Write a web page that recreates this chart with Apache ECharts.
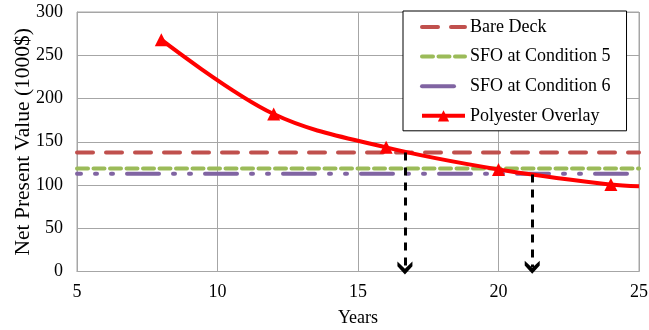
<!DOCTYPE html>
<html>
<head>
<meta charset="utf-8">
<script src="https://cdn.jsdelivr.net/npm/echarts@6/dist/echarts.min.js"></script>
<style>
html,body{margin:0;padding:0;background:#fff;}
#chart{width:649px;height:330px;}
</style>
</head>
<body>
<div id="chart"></div>
<script>
// ---- data ----
var xTicks = [5, 10, 15, 20, 25];
var yTicks = [0, 50, 100, 150, 200, 250, 300];
var seriesNames = ['Bare Deck', 'SFO at Condition 5', 'SFO at Condition 6', 'Polyester Overlay'];
var bareDeck = [[5, 137.6], [25, 137.6]];
var sfoCond5 = [[5, 119], [25, 119]];
var sfoCond6 = [[5, 113], [25, 113]];
var polyesterYears = [8, 12, 16, 20, 24, 25];
var polyesterValues = [268, 182, 143.5, 118, 100.5, 98.5];
var arrowYears = [16.67, 21.2];
var arrowTops = [137.6, 112];
var arrowBottoms = [4, 5];

var FONT = '"Liberation Serif","Times New Roman",serif';
var polyData = polyesterYears.map(function (x, i) {
  return { value: [x, polyesterValues[i]], symbol: i === polyesterYears.length - 1 ? 'none' : 'triangle' };
});
var chevron = 'path://M5,0 L10,7 L10,11 L5,5 L0,11 L0,7 Z';
var arrowLines = arrowYears.map(function (x, i) {
  return [{ coord: [x, arrowTops[i]], symbol: 'none' }, { coord: [x, arrowBottoms[i]], symbol: chevron, symbolSize: [15, 13] }];
});
var legendLineStyles = [
  { width: 4, type: [16, 13], cap: 'round', dashOffset: 0 },
  { width: 4, type: [11, 5.5], cap: 'round', dashOffset: 0 },
  { width: 4, type: [32, 40], cap: 'round', dashOffset: 0 },
  { width: 4, type: 'solid' }
];
var legendData = seriesNames.map(function (n, i) {
  return i < 3 ? { name: n, itemStyle: { opacity: 0 }, lineStyle: legendLineStyles[i] }
               : { name: n, lineStyle: legendLineStyles[i] };
});

var chart = echarts.init(document.getElementById('chart'), null, { renderer: 'canvas' });
chart.setOption({
  animation: false,
  backgroundColor: '#fff',
  textStyle: { fontFamily: FONT },
  grid: { left: 77, right: 10, top: 12, bottom: 58.5, show: true, borderColor: '#a6a6a6', borderWidth: 1,
          containLabel: false, outerBoundsMode: 'none' },
  legend: {
    orient: 'vertical',
    left: 403, top: 11,
    padding: [7, 16, 6, 17],
    itemWidth: 43, itemHeight: 14, itemGap: 11.6,
    backgroundColor: '#fff',
    borderColor: '#000', borderWidth: 1,
    textStyle: { fontFamily: FONT, fontSize: 18, color: '#000' },
    data: legendData
  },
  xAxis: {
    type: 'value', min: xTicks[0], max: xTicks[xTicks.length - 1], interval: 5,
    name: 'Years', nameLocation: 'middle', nameGap: 38,
    nameTextStyle: { fontFamily: FONT, fontSize: 18, color: '#000' },
    axisLine: { lineStyle: { color: '#a6a6a6' } },
    axisTick: { show: false },
    axisLabel: { fontFamily: FONT, fontSize: 18, color: '#000', margin: 12 },
    splitLine: { show: true, lineStyle: { color: '#a6a6a6', width: 1 } }
  },
  yAxis: {
    type: 'value', min: yTicks[0], max: yTicks[yTicks.length - 1], interval: 50,
    name: 'Net Present Value (1000$)', nameLocation: 'middle', nameGap: 43, nameMoveOverlap: false,
    nameTextStyle: { fontFamily: FONT, fontSize: 21.5, color: '#000' },
    axisLine: { show: true, lineStyle: { color: '#a6a6a6' } },
    axisTick: { show: false },
    axisLabel: { fontFamily: FONT, fontSize: 18, color: '#000', margin: 14 },
    splitLine: { show: true, lineStyle: { color: '#a6a6a6', width: 1 } }
  },
  series: [
    { name: seriesNames[0], type: 'line', data: bareDeck, symbol: 'none', z: 3,
      lineStyle: { color: '#C0504D', width: 4, type: [16, 13], cap: 'round' }, itemStyle: { color: '#C0504D' } },
    { name: seriesNames[1], type: 'line', data: sfoCond5, symbol: 'none', z: 3,
      lineStyle: { color: '#9BBB59', width: 4, type: [11, 5.5], cap: 'round' }, itemStyle: { color: '#9BBB59' } },
    { name: seriesNames[2], type: 'line', data: sfoCond6, symbol: 'none', z: 3,
      lineStyle: { color: '#8064A2', width: 4, type: [32, 14, 2, 14, 2, 14], cap: 'round', dashOffset: 28 }, itemStyle: { color: '#8064A2' } },
    { name: seriesNames[3], type: 'line', data: polyData, symbol: 'triangle', symbolSize: 13, showAllSymbol: true, z: 5,
      smooth: 0.35,
      lineStyle: { color: '#FF0000', width: 4 }, itemStyle: { color: '#FF0000' },
      markLine: {
        silent: true, animation: false, z: 6,
        label: { show: false },
        lineStyle: { color: '#000', width: 3, type: [8, 7] },
        emphasis: { disabled: true },
        data: arrowLines
      }
    }
  ]
});
</script>
</body>
</html>
